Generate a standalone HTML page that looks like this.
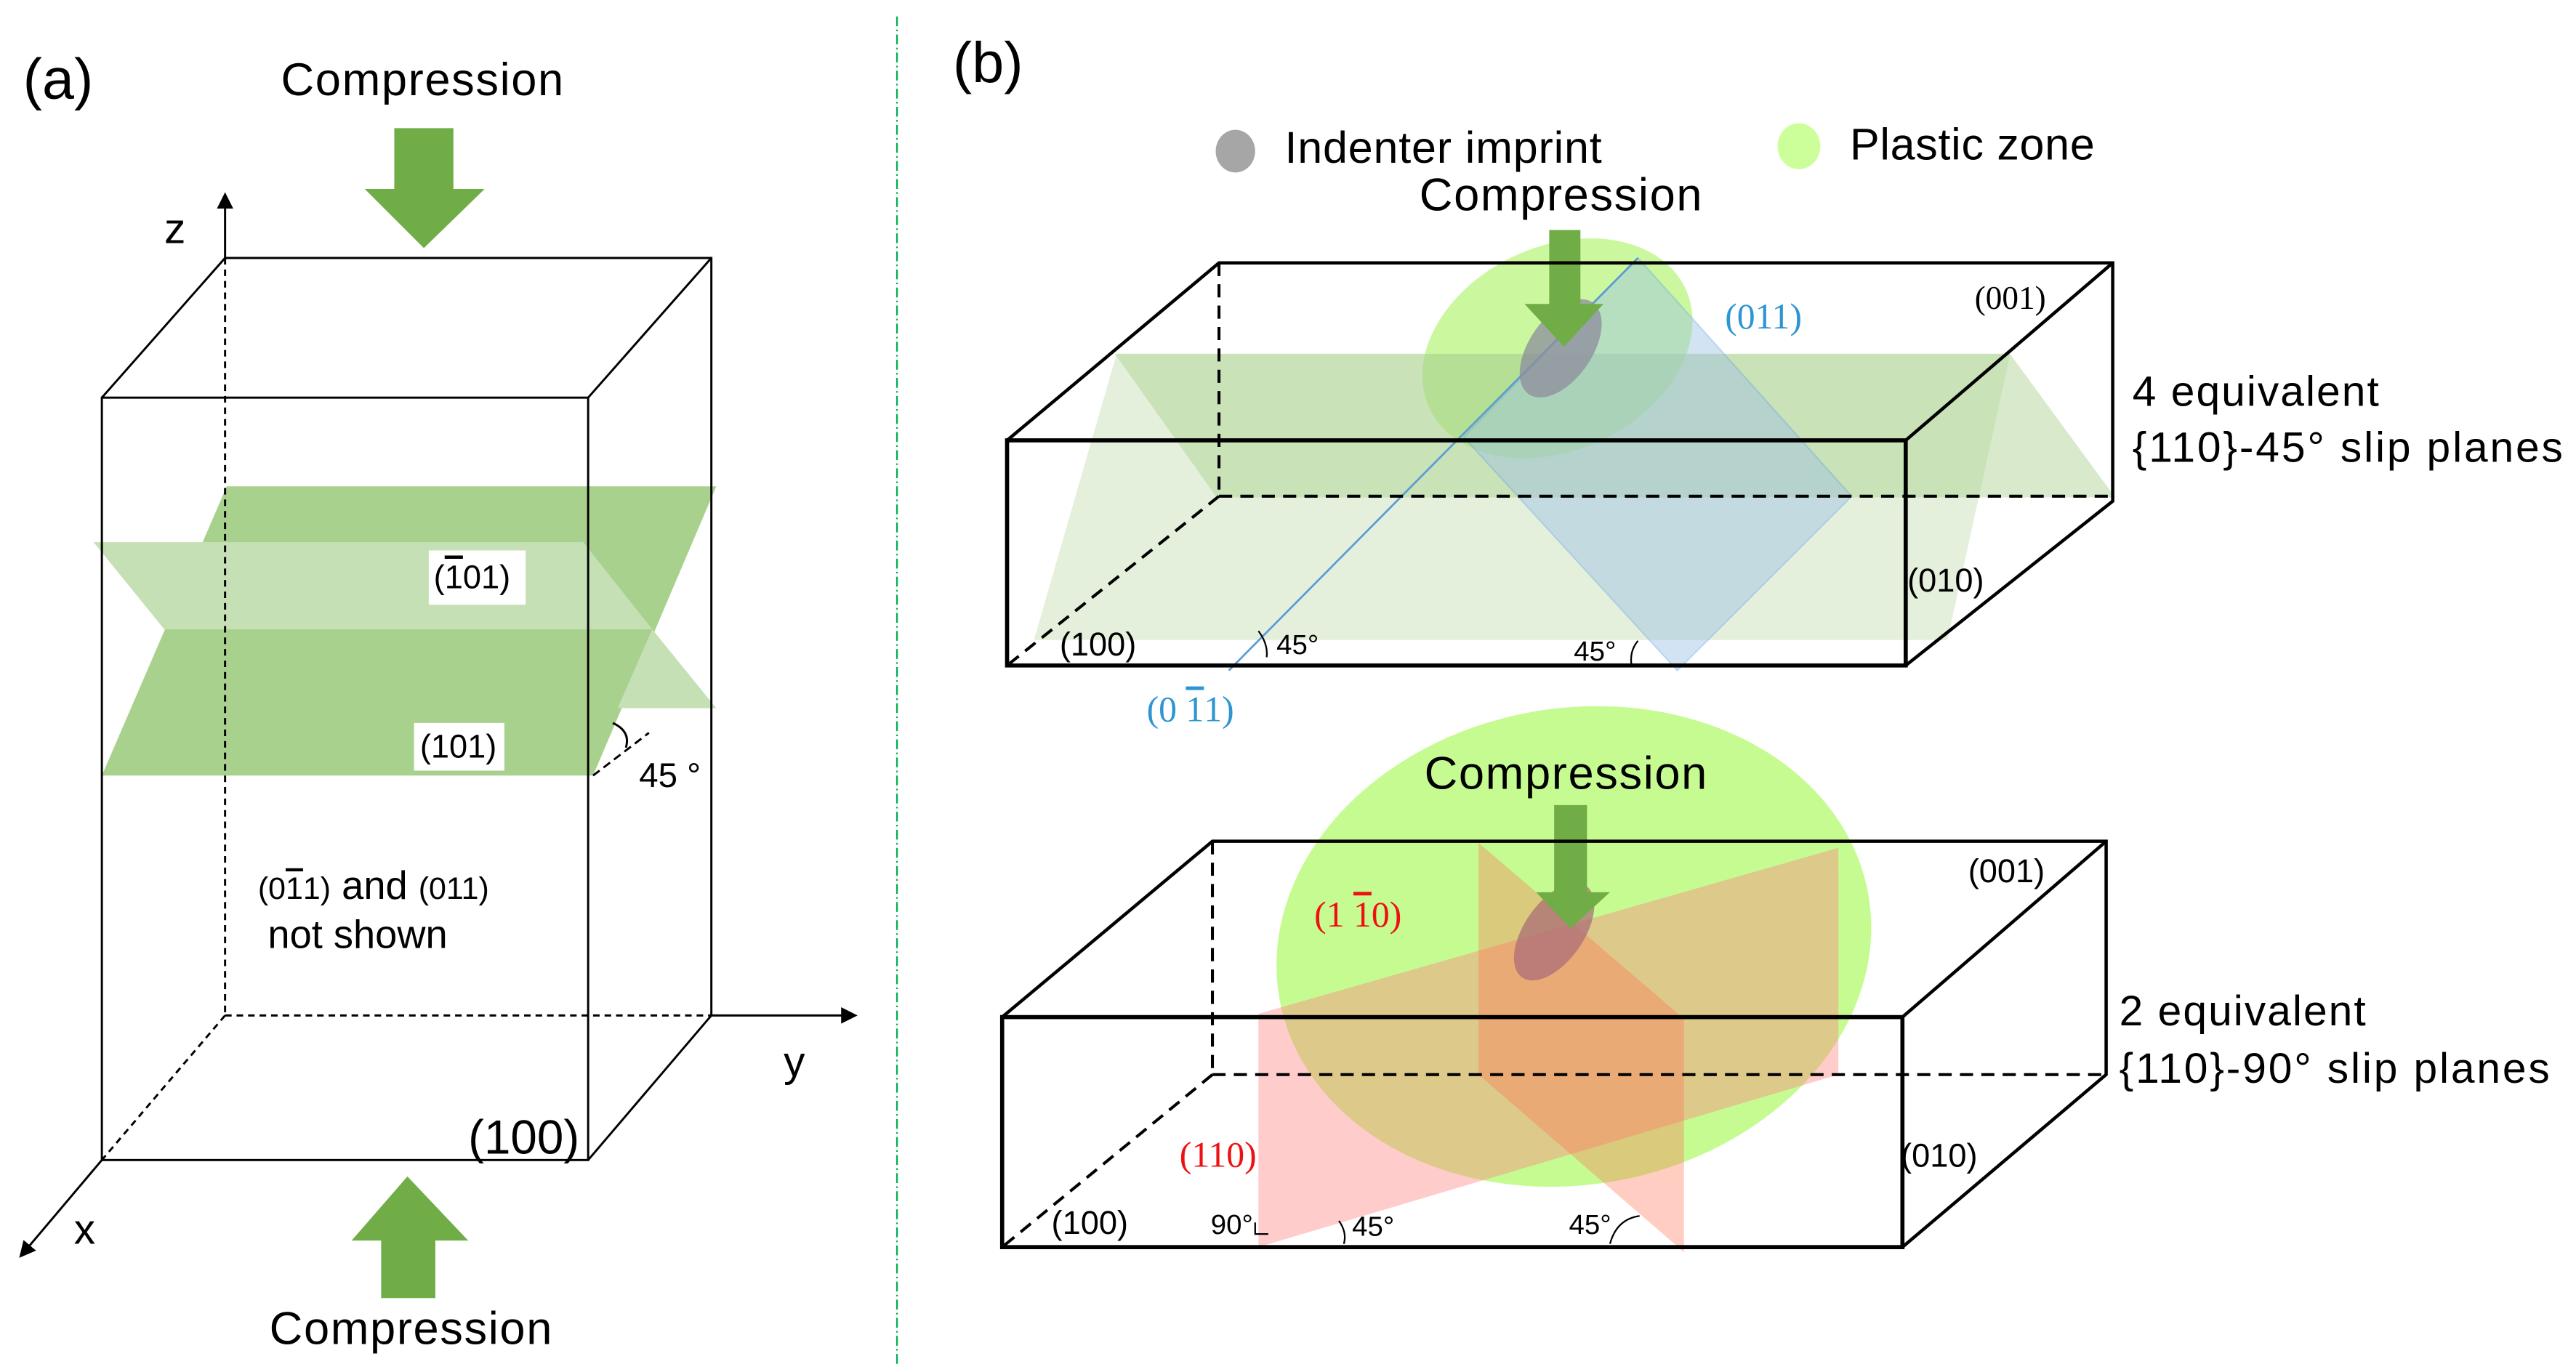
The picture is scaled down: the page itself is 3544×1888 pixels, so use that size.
<!DOCTYPE html>
<html><head><meta charset="utf-8"><style>
html,body{margin:0;padding:0;background:#fff;}
svg{display:block;}
text{font-family:"Liberation Sans",Arial,sans-serif;}
.s{font-family:"Liberation Serif",serif;}
</style></head><body>
<svg width="3544" height="1888" viewBox="0 0 1568 835" preserveAspectRatio="none" xmlns="http://www.w3.org/2000/svg">
<defs>
<marker id="ah" markerWidth="10" markerHeight="10" refX="8" refY="5" orient="auto" markerUnits="userSpaceOnUse"><path d="M0,0 L10,5 L0,10 z" fill="#000"/></marker>
</defs>
<rect width="1568" height="835" fill="#fff"/>
<!-- Panel a -->
<text x="14" y="60" font-size="35">(a)</text>
<text x="257" y="58" font-size="28" text-anchor="middle" textLength="172">Compression</text>
<polygon points="240,78 276,78 276,115 295,115 258,151 222,115 240,115" fill="#70ad47"/>
<polygon points="138,296 436,296 361,472 62,472" fill="#a9d18e"/>
<polygon points="57,330 355,330 397,383 100,383" fill="#c5e0b4"/>
<polygon points="397,383 436,431 376,431" fill="#c5e0b4"/>
<rect x="261" y="335" width="59" height="33" fill="#fff"/>
<text x="264" y="358" font-size="20">(<tspan text-decoration="overline">1</tspan>01)</text>
<rect x="252" y="440" width="55" height="29" fill="#fff"/>
<text x="279" y="461" font-size="20" text-anchor="middle">(101)</text>
<g stroke="#000" stroke-width="1.3" fill="none">
<rect x="62" y="242" width="296" height="464"/>
<polyline points="62,242 137,157 433,157 433,618"/>
<line x1="358" y1="242" x2="433" y2="157"/>
<line x1="358" y1="706" x2="433" y2="618"/>
<g stroke-dasharray="4,3">
<line x1="137" y1="157" x2="137" y2="618"/>
<line x1="137" y1="618" x2="433" y2="618"/>
<line x1="137" y1="618" x2="62" y2="706"/>
</g>
<line x1="137" y1="157" x2="137" y2="119" marker-end="url(#ah)"/>
<line x1="433" y1="618" x2="520" y2="618" marker-end="url(#ah)"/>
<line x1="62" y1="706" x2="13" y2="764" marker-end="url(#ah)"/>
<line x1="361" y1="472" x2="395" y2="446" stroke-dasharray="5,3"/>
<path d="M373,440 Q384,445 381,455"/>
</g>
<text x="100" y="148" font-size="26">z</text>
<text x="477" y="655" font-size="26">y</text>
<text x="45" y="757" font-size="26">x</text>
<text x="389" y="479" font-size="21">45 °</text>
<text x="157" y="547" font-size="24"><tspan font-size="19">(0<tspan text-decoration="overline">1</tspan>1)</tspan> and <tspan font-size="19">(011)</tspan></text>
<text x="163" y="577" font-size="24">not shown</text>
<text x="285" y="702" font-size="29">(100)</text>
<polygon points="248,716 285,755 265,755 265,790 232,790 232,755 214,755" fill="#70ad47"/>
<text x="250" y="818" font-size="28" text-anchor="middle" textLength="172">Compression</text>
<line x1="546" y1="10" x2="546" y2="830" stroke="#00b050" stroke-width="1" stroke-dasharray="6,2,1,2"/>
<!-- Panel b -->
<text x="580" y="50" font-size="35">(b)</text>
<ellipse cx="752" cy="92" rx="12" ry="13" fill="#a6a6a6"/>
<text x="782" y="99" font-size="27" textLength="193">Indenter imprint</text>
<ellipse cx="1095" cy="89" rx="13" ry="14" fill="#ccff99"/>
<text x="1126" y="97" font-size="27" textLength="149">Plastic zone</text>
<text x="950" y="128" font-size="28" text-anchor="middle" textLength="172">Compression</text>
<ellipse cx="948" cy="212" rx="86" ry="62" transform="rotate(-25 948 212)" fill="#b9f57f" opacity="0.75"/>
<polygon points="680,216 1223,216 1286,302 741,302" fill="#a9d18e" opacity="0.45" stroke="#a9d18e" stroke-width="1.5"/>
<polygon points="680,216 1223,216 1185,389 630,389" fill="#a9d18e" opacity="0.3" stroke="#a9d18e" stroke-width="1"/>
<polygon points="997,157 1127,302 1021,408 891,266" fill="#9dc3e6" opacity="0.45" stroke="#6fa8dc" stroke-width="1"/>
<line x1="997" y1="157" x2="748" y2="408" stroke="#5b9bd5" stroke-width="1.2"/>
<ellipse cx="950" cy="212" rx="34" ry="19" transform="rotate(-55 950 212)" fill="#8c8c9c" opacity="0.75"/>
<polygon points="943,140 962,140 962,185 976,185 952,211 928,185 943,185" fill="#70ad47"/>
<g stroke="#000" fill="none">
<rect x="613" y="268" width="547" height="137" stroke-width="2.5"/>
<polyline points="613,268 742,160 1286,160 1286,305 1160,405" stroke-width="2"/>
<line x1="1160" y1="268" x2="1286" y2="160" stroke-width="2"/>
<g stroke-dasharray="8,5" stroke-width="1.8">
<line x1="742" y1="160" x2="742" y2="302"/>
<line x1="742" y1="302" x2="1286" y2="302"/>
<line x1="742" y1="302" x2="613" y2="405"/>
</g>
<path d="M766,384 Q772,392 771,400" stroke-width="1"/>
<path d="M997,390 Q992,396 993,404" stroke-width="1"/>
</g>
<text x="1050" y="200" font-size="22" fill="#2e95d3" class="s">(011)</text>
<text x="1202" y="188" font-size="20" class="s">(001)</text>
<text x="1161" y="360" font-size="20">(010)</text>
<text x="645" y="399" font-size="20">(100)</text>
<text x="777" y="398" font-size="17">45°</text>
<text x="958" y="402" font-size="17">45°</text>
<text x="698" y="439" font-size="22" fill="#2e95d3" class="s">(0 <tspan text-decoration="overline">1</tspan>1)</text>
<text x="1298" y="247" font-size="26" textLength="150">4 equivalent</text>
<text x="1298" y="281" font-size="26" textLength="262">{110}-45°  slip planes</text>
<ellipse cx="958" cy="576" rx="182" ry="145" transform="rotate(-10 958 576)" fill="#c6fb92"/>
<polygon points="766,617 1119,516 1119,654 766,759" fill="#ff8080" opacity="0.4"/>
<polygon points="900,513 1025,620 1025,762 900,654" fill="#ff7050" opacity="0.35"/>
<ellipse cx="946" cy="567" rx="34" ry="18" transform="rotate(-55 946 567)" fill="#a86878" opacity="0.7"/>
<polygon points="946,490 966,490 966,543 980,543 956,565 935,543 946,543" fill="#70ad47"/>
<text x="953" y="480" font-size="28" text-anchor="middle" textLength="172">Compression</text>
<g stroke="#000" fill="none">
<rect x="610" y="619" width="548" height="140" stroke-width="2.5"/>
<polyline points="610,619 738,512 1282,512 1282,654 1158,759" stroke-width="2"/>
<line x1="1158" y1="619" x2="1282" y2="512" stroke-width="2"/>
<g stroke-dasharray="8,5" stroke-width="1.8">
<line x1="738" y1="512" x2="738" y2="654"/>
<line x1="738" y1="654" x2="1282" y2="654"/>
<line x1="738" y1="654" x2="610" y2="759"/>
</g>
<path d="M815,743 Q820,750 818,757" stroke-width="1"/>
<path d="M980,757 Q984,742 998,740" stroke-width="1"/>
<path d="M764,744 L764,751 L772,751" stroke-width="1"/>
</g>
<text x="800" y="564" font-size="22" fill="#ee1111" class="s">(1 <tspan text-decoration="overline">1</tspan>0)</text>
<text x="718" y="710" font-size="22" fill="#ee1111" class="s">(110)</text>
<text x="1198" y="537" font-size="20">(001)</text>
<text x="1157" y="710" font-size="20">(010)</text>
<text x="640" y="751" font-size="20">(100)</text>
<text x="737" y="751" font-size="17">90°</text>
<text x="823" y="752" font-size="17">45°</text>
<text x="955" y="751" font-size="17">45°</text>
<text x="1290" y="624" font-size="26" textLength="150">2 equivalent</text>
<text x="1290" y="659" font-size="26" textLength="262">{110}-90°  slip planes</text>
</svg>
</body></html>
